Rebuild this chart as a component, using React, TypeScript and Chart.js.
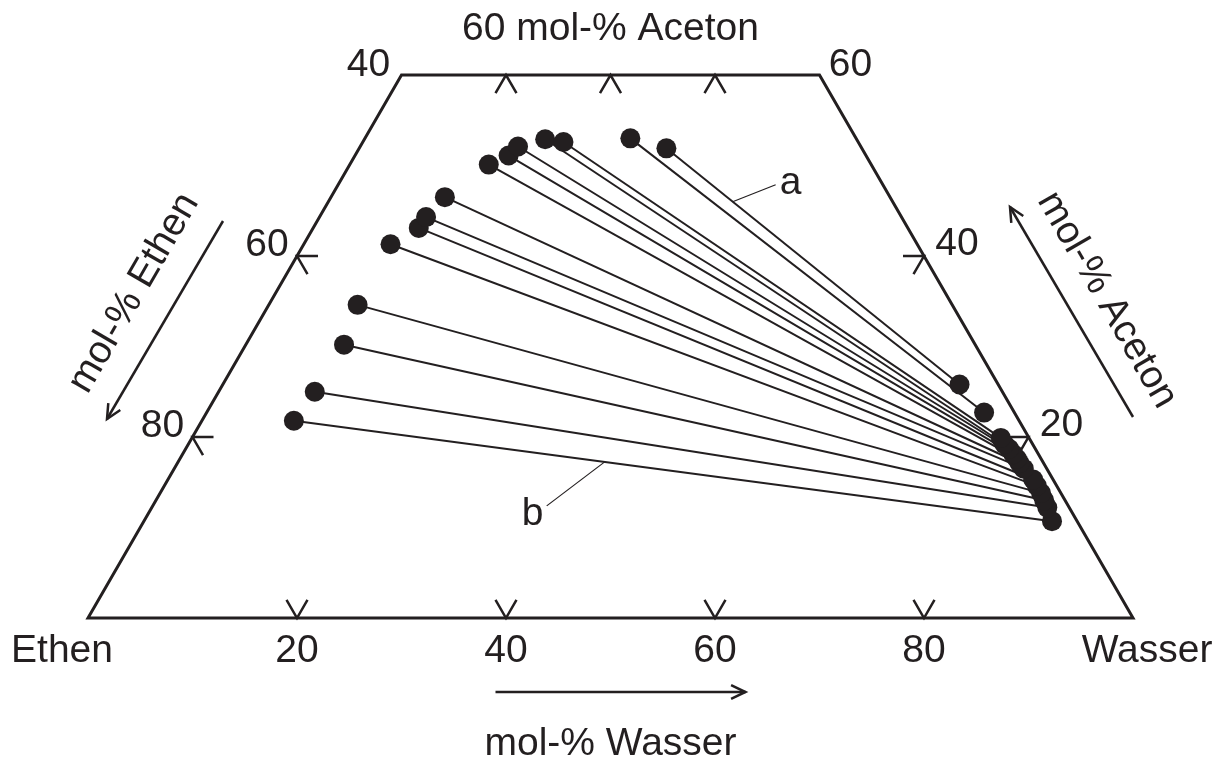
import React, { useEffect, useRef } from "react";
import { Chart, registerables } from "chart.js";

Chart.register(...registerables);

// Ternary composition data (mol-%)
// Ethen-rich phase (left ends of tie lines)
const ethenPhaseWasser = [29.4, 25.4, 19.2, 17.3, 15.1, 14.7, 13.3, 10.9, 10.2, 10.1, 8.3, 8.5, 9.4, 9.2, 8.8];
const ethenPhaseAceton = [51.9, 53.0, 52.6, 52.9, 52.1, 51.1, 50.1, 46.5, 44.3, 43.1, 41.3, 34.6, 30.2, 25.0, 21.8];
// Water-rich phase (right ends of tie lines)
const wasserPhaseWasser = [70.5, 74.4, 77.4, 78.1, 78.8, 79.5, 80.1, 80.6, 81.3, 82.8, 83.5, 84.3, 85.0, 85.7, 86.9];
const wasserPhaseAceton = [25.8, 22.7, 19.9, 19.2, 18.7, 18.1, 17.6, 17.1, 16.5, 15.3, 14.6, 13.8, 13.0, 12.2, 10.7];

// Axis ticks
const maxAceton = 60;
const bottomTicks = [20, 40, 60, 80]; // mol-% Wasser on base
const topTicks = [10, 20, 30]; // mol-% Wasser along the 60 % Aceton cut
const sideTicks = [20, 40]; // mol-% Aceton on both sides
const leftTickLabels = ["80", "60"]; // mol-% Ethen at sideTicks
const rightTickLabels = ["20", "40"]; // mol-% Aceton at sideTicks
const topCornerLabels = ["40", "60"];
const cornerLabels = ["Ethen", "Wasser"];
const titleText = "60 mol-% Aceton";
const bottomAxisTitle = "mol-% Wasser";
const leftAxisTitle = "mol-% Ethen";
const rightAxisTitle = "mol-% Aceton";
const lineLabels = ["a", "b"];

const SQ = Math.sqrt(3) / 2;
const toXY = (w: number, a: number) => ({ x: w + a / 2, y: a * SQ });

const FONT = "39px 'Liberation Sans', Arial, Helvetica, sans-serif";
const INK = "#231f20";

function arrow(ctx: CanvasRenderingContext2D, x1: number, y1: number, x2: number, y2: number) {
  ctx.beginPath();
  ctx.moveTo(x1, y1);
  ctx.lineTo(x2, y2);
  ctx.stroke();
  const ang = Math.atan2(y2 - y1, x2 - x1);
  const L = 16;
  const h = Math.PI / 7;
  ctx.beginPath();
  ctx.moveTo(x2 - L * Math.cos(ang - h), y2 - L * Math.sin(ang - h));
  ctx.lineTo(x2, y2);
  ctx.lineTo(x2 - L * Math.cos(ang + h), y2 - L * Math.sin(ang + h));
  ctx.stroke();
}

const ternaryPlugin = {
  id: "ternaryFrame",
  beforeDatasetsDraw(chart: any) {
    const ctx: CanvasRenderingContext2D = chart.ctx;
    const xs = chart.scales.x;
    const ys = chart.scales.y;
    const P = (w: number, a: number) => {
      const c = toXY(w, a);
      return [xs.getPixelForValue(c.x), ys.getPixelForValue(c.y)];
    };
    ctx.save();
    ctx.strokeStyle = INK;
    ctx.lineJoin = "miter";
    ctx.lineWidth = 3;
    const c1 = P(0, 0), c2 = P(100, 0), c3 = P(100 - maxAceton, maxAceton), c4 = P(0, maxAceton);
    ctx.beginPath();
    ctx.moveTo(c1[0], c1[1]);
    ctx.lineTo(c2[0], c2[1]);
    ctx.lineTo(c3[0], c3[1]);
    ctx.lineTo(c4[0], c4[1]);
    ctx.closePath();
    ctx.stroke();

    // tick marks
    ctx.lineWidth = 2.5;
    const arm = 21;
    const d60x = Math.cos(Math.PI / 3) * arm, d60y = Math.sin(Math.PI / 3) * arm;
    bottomTicks.forEach((w) => {
      const [x, y] = P(w, 0);
      ctx.beginPath();
      ctx.moveTo(x - d60x, y - d60y);
      ctx.lineTo(x, y);
      ctx.lineTo(x + d60x, y - d60y);
      ctx.stroke();
    });
    topTicks.forEach((w) => {
      const [x, y] = P(w, maxAceton);
      ctx.beginPath();
      ctx.moveTo(x - d60x, y + d60y);
      ctx.lineTo(x, y);
      ctx.lineTo(x + d60x, y + d60y);
      ctx.stroke();
    });
    sideTicks.forEach((a) => {
      const [lx, ly] = P(0, a);
      ctx.beginPath();
      ctx.moveTo(lx + arm, ly);
      ctx.lineTo(lx, ly);
      ctx.lineTo(lx + d60x, ly + d60y);
      ctx.stroke();
      const [rx, ry] = P(100 - a, a);
      ctx.beginPath();
      ctx.moveTo(rx - arm, ry);
      ctx.lineTo(rx, ry);
      ctx.lineTo(rx - d60x, ry + d60y);
      ctx.stroke();
    });
    ctx.restore();
  },
  afterDatasetsDraw(chart: any) {
    const ctx: CanvasRenderingContext2D = chart.ctx;
    const xs = chart.scales.x;
    const ys = chart.scales.y;
    const P = (w: number, a: number) => {
      const c = toXY(w, a);
      return [xs.getPixelForValue(c.x), ys.getPixelForValue(c.y)];
    };
    ctx.save();
    ctx.fillStyle = INK;
    ctx.strokeStyle = INK;
    ctx.font = FONT;
    ctx.textAlign = "center";
    ctx.textBaseline = "middle";

    // corner labels
    const [ex, ey] = P(0, 0);
    const [wx, wy] = P(100, 0);
    ctx.fillText(cornerLabels[0], ex - 26, ey + 33);
    ctx.fillText(cornerLabels[1], wx + 14, wy + 33);
    bottomTicks.forEach((w) => {
      const [x, y] = P(w, 0);
      ctx.fillText(String(w), x, y + 33);
    });
    sideTicks.forEach((a, i) => {
      const [lx, ly] = P(0, a);
      ctx.fillText(leftTickLabels[i], lx - 30, ly - 11);
      const [rx, ry] = P(100 - a, a);
      ctx.fillText(rightTickLabels[i], rx + 33, ry - 12);
    });
    const [tlx, tly] = P(0, maxAceton);
    const [trx, try_] = P(100 - maxAceton, maxAceton);
    ctx.fillText(topCornerLabels[0], tlx - 33, tly - 10);
    ctx.fillText(topCornerLabels[1], trx + 31, try_ - 10);
    ctx.fillText(titleText, (tlx + trx) / 2, tly - 46);

    // bottom axis title and arrow
    const midX = (ex + wx) / 2;
    ctx.fillText(bottomAxisTitle, midX, ey + 126);
    ctx.lineWidth = 2.5;
    arrow(ctx, midX - 115, ey + 74, midX + 135, ey + 74);

    // left rotated title and arrow
    ctx.save();
    ctx.translate(134, 293);
    ctx.rotate(-Math.PI / 3);
    ctx.fillText(leftAxisTitle, 0, 0);
    ctx.restore();
    arrow(ctx, 223, 221, 107, 419);

    // right rotated title and arrow
    ctx.save();
    ctx.translate(1107, 300);
    ctx.rotate(Math.PI / 3);
    ctx.fillText(rightAxisTitle, 0, 0);
    ctx.restore();
    arrow(ctx, 1133, 417, 1010, 207);

    // leader labels a and b
    ctx.lineWidth = 1.2;
    const leader = (i: number, t: number, dx: number, dy: number, label: string, lx: number, ly: number) => {
      const [x1, y1] = P(ethenPhaseWasser[i], ethenPhaseAceton[i]);
      const [x2, y2] = P(wasserPhaseWasser[i], wasserPhaseAceton[i]);
      const ax = x1 + (x2 - x1) * t;
      const ay = y1 + (y2 - y1) * t;
      ctx.beginPath();
      ctx.moveTo(ax, ay);
      ctx.lineTo(ax + dx, ay + dy);
      ctx.stroke();
      ctx.fillText(label, ax + dx + lx, ay + dy + ly);
    };
    leader(0, 0.226, 43, -17, lineLabels[0], 15, -1);
    leader(ethenPhaseWasser.length - 1, 0.41, -58, 44, lineLabels[1], -14, 8);
    ctx.restore();
  },
};

export default function App() {
  const ref = useRef<HTMLCanvasElement | null>(null);
  useEffect(() => {
    if (!ref.current) return;
    const datasets: any[] = ethenPhaseWasser.map((_, i) => ({
      data: [
        toXY(ethenPhaseWasser[i], ethenPhaseAceton[i]),
        toXY(wasserPhaseWasser[i], wasserPhaseAceton[i]),
      ],
      showLine: true,
      borderColor: INK,
      backgroundColor: INK,
      borderWidth: 2,
      pointRadius: 10,
      pointBorderWidth: 0,
      pointBackgroundColor: INK,
      clip: false,
    }));
    const chart = new Chart(ref.current, {
      type: "scatter",
      data: { datasets },
      options: {
        responsive: false,
        animation: false,
        layout: { padding: { left: 88, right: 94, top: 75, bottom: 140 } },
        scales: {
          x: { type: "linear", min: 0, max: 100, display: false },
          y: { type: "linear", min: 0, max: maxAceton * SQ, display: false },
        },
        plugins: { legend: { display: false }, tooltip: { enabled: false } },
      },
      plugins: [ternaryPlugin],
    });
    return () => chart.destroy();
  }, []);
  return (
    <div style={{ position: "absolute", left: 0, top: 0, width: 1227, height: 758, background: "#fff" }}>
      <canvas ref={ref} width={1227} height={758} />
    </div>
  );
}
